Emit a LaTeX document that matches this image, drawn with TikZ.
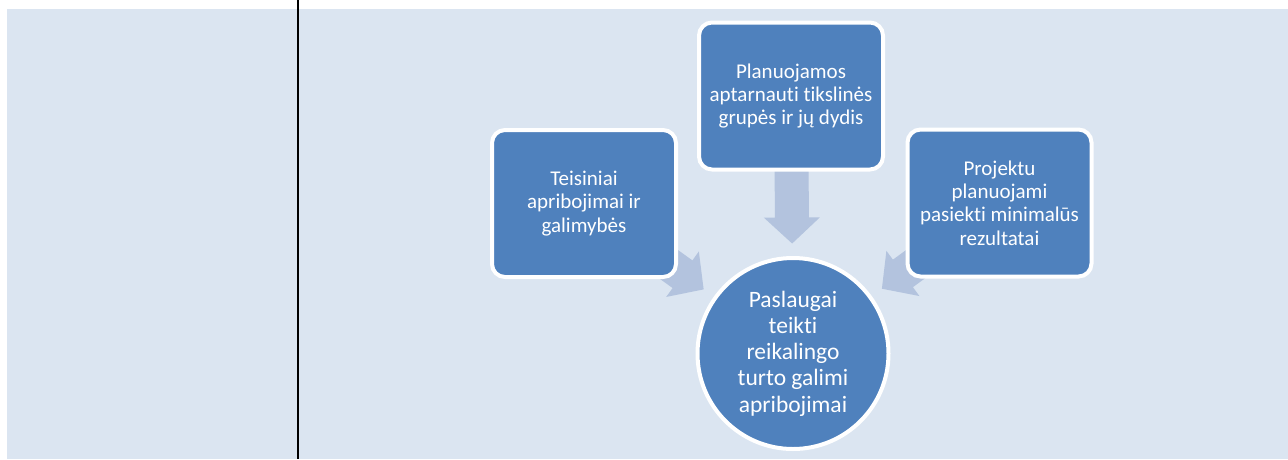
\documentclass[tikz,border=0pt]{standalone}
\usepackage{fontspec}
\setmainfont[Ligatures=NoCommon]{Carlito}
\usetikzlibrary{calc}
\pgfdeclarelayer{bg}
\pgfsetlayers{bg,main}

\definecolor{panel}{HTML}{DBE5F1}
\definecolor{boxblue}{HTML}{4F81BD}
\definecolor{flowblue}{HTML}{B3C3DE}

\tikzset{
  satbox/.style={draw=white, line width=4pt, fill=boxblue, rounded corners=13pt,
    minimum width=184pt, minimum height=147pt, text=white, align=center,
    inner sep=0pt, font=\fontsize{21}{23.4}\selectfont},
  hubnode/.style={circle, draw=white, line width=4pt, fill=boxblue,
    minimum size=191pt, text=white, align=center, inner sep=0pt,
    font=\fontsize{23.5}{26.3}\selectfont},
  flow/.style={fill=flowblue},
}

\begin{document}
\begin{tikzpicture}[x=1pt, y=-1pt]
\useasboundingbox (0,0) rectangle (1288,459);

% satellite boxes and the hub circle
\node[satbox] (satL) at (584,203.5) {Teisiniai\\apribojimai ir\\galimybės};
\node[satbox] (satT) at (791,96) {Planuojamos\\aptarnauti tikslinės\\grupės ir jų dydis};
\node[satbox] (satR) at (999.5,203) {Projektu\\planuojami\\pasiekti minimalūs\\rezultatai};
\node[hubnode] (hub) at (793,353.5) {Paslaugai\\teikti\\reikalingo\\turto galimi\\apribojimai};

\begin{pgfonlayer}{bg}
  % table cell background and column rule
  \fill[panel] (7,9) rectangle (1288,459);
  \draw[line width=2pt] (298,0) -- (298,459);
  % converging block arrows, tips just short of the hub
  \foreach \s in {satL,satT,satR}{
    \coordinate (tip-\s) at ($(hub.center)!110pt!(\s.center)$);
    \coordinate (neck-\s) at ($(tip-\s)!26pt!(\s.center)$);
    \coordinate (tail-\s) at ($(tip-\s)!80pt!(\s.center)$);
    \fill[flow] (tip-\s)
      -- ($(neck-\s)!28pt!90:(\s.center)$)
      -- ($(neck-\s)!17pt!90:(\s.center)$)
      -- ($(tail-\s)!17pt!90:(\s.center)$)
      -- ($(tail-\s)!17pt!-90:(\s.center)$)
      -- ($(neck-\s)!17pt!-90:(\s.center)$)
      -- ($(neck-\s)!28pt!-90:(\s.center)$)
      -- cycle;
  }
\end{pgfonlayer}
\end{tikzpicture}
\end{document}
